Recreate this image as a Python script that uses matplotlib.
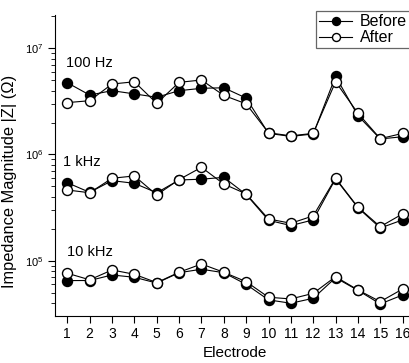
import matplotlib
matplotlib.use("Agg")
import matplotlib.pyplot as plt
from matplotlib.ticker import LogLocator

plt.rcParams['font.family'] = ['Liberation Sans', 'DejaVu Sans']
plt.rcParams['mathtext.default'] = 'regular'

electrodes = list(range(1, 17))

# impedance magnitude (ohm)
before_100hz = [4.74e6, 3.63e6, 3.99e6, 3.72e6, 3.46e6, 3.99e6, 4.2e6, 4.25e6,
                3.4e6, 1.58e6, 1.48e6, 1.56e6, 5.45e6, 2.32e6, 1.4e6, 1.47e6]
after_100hz = [3.08e6, 3.21e6, 4.61e6, 4.84e6, 3.03e6, 4.78e6, 5.03e6, 3.6e6,
               3.0e6, 1.6e6, 1.5e6, 1.58e6, 4.84e6, 2.45e6, 1.41e6, 1.58e6]

before_1khz = [5.42e5, 4.4e5, 5.67e5, 5.35e5, 4.36e5, 5.75e5, 5.85e5, 6.09e5,
               4.2e5, 2.4e5, 2.14e5, 2.42e5, 5.9e5, 3.15e5, 2.03e5, 2.42e5]
after_1khz = [4.63e5, 4.36e5, 5.97e5, 6.28e5, 4.16e5, 5.8e5, 7.57e5, 5.27e5,
              4.25e5, 2.47e5, 2.25e5, 2.64e5, 5.98e5, 3.19e5, 2.09e5, 2.76e5]

before_10khz = [6.49e4, 6.5e4, 7.33e4, 6.97e4, 6.15e4, 7.7e4, 8.3e4, 7.7e4,
                5.98e4, 4.27e4, 3.97e4, 4.42e4, 6.9e4, 5.25e4, 3.91e4, 4.75e4]
after_10khz = [7.61e4, 6.6e4, 8.17e4, 7.44e4, 6.21e4, 7.77e4, 9.3e4, 7.77e4,
               6.34e4, 4.52e4, 4.36e4, 4.92e4, 7.06e4, 5.3e4, 4.11e4, 5.41e4]

freq_labels = ["100 Hz", "1 kHz", "10 kHz"]
label_pos = [(0.92, 7.3e6), (0.8, 8.5e5), (1.0, 1.21e5)]

fig = plt.figure(figsize=(4.09, 3.63), dpi=100)
ax = fig.add_axes([0.1345, 0.1303, 0.880, 0.8284])

line_kw = dict(color='black', lw=0.8, markersize=7.2, markeredgewidth=1.0)
for before, after in [(before_100hz, after_100hz), (before_1khz, after_1khz),
                      (before_10khz, after_10khz)]:
    ax.plot(electrodes, before, marker='o', markerfacecolor='black',
            markeredgecolor='black', **line_kw)
    ax.plot(electrodes, after, marker='o', markerfacecolor='white',
            markeredgecolor='black', **line_kw)

for txt, (x, y) in zip(freq_labels, label_pos):
    ax.text(x, y, txt, fontsize=10.5, va='center', ha='left')

ax.set_yscale('log')
ax.set_ylim(3.03e4, 2.06e7)
ax.set_xlim(0.45, 16.55)
ax.set_xticks(electrodes)
ax.yaxis.set_minor_locator(LogLocator(base=10, subs=range(2, 10)))

ax.spines['top'].set_visible(False)
ax.spines['right'].set_visible(False)
ax.tick_params(axis='x', direction='out', length=5, labelsize=10, pad=3)
ax.tick_params(axis='y', which='major', direction='out', length=5, labelsize=8)
ax.tick_params(axis='y', which='minor', direction='out', length=3)

ax.set_xlabel('Electrode', fontsize=11, labelpad=4)
ax.set_ylabel('Impedance Magnitude |Z| (Ω)', fontsize=11.8)
ax.yaxis.set_label_coords(-0.105, 0.448)

# legend handles
hb, = ax.plot([], [], marker='o', markerfacecolor='black', markeredgecolor='black', **line_kw)
ha, = ax.plot([], [], marker='o', markerfacecolor='white', markeredgecolor='black', **line_kw)
leg = ax.legend([hb, ha], ['Before', 'After'], loc='upper left',
                bbox_to_anchor=(315.7 / 409, 1 - 11.3 / 363),
                bbox_transform=fig.transFigure, fontsize=11.5, frameon=True,
                fancybox=False, framealpha=1, edgecolor='#666666',
                borderpad=0.2, labelspacing=0.05, handlelength=2.1,
                handletextpad=0.45, borderaxespad=0, markerscale=0.8)
leg.get_frame().set_linewidth(0.9)

fig.savefig('out.png', dpi=100)
